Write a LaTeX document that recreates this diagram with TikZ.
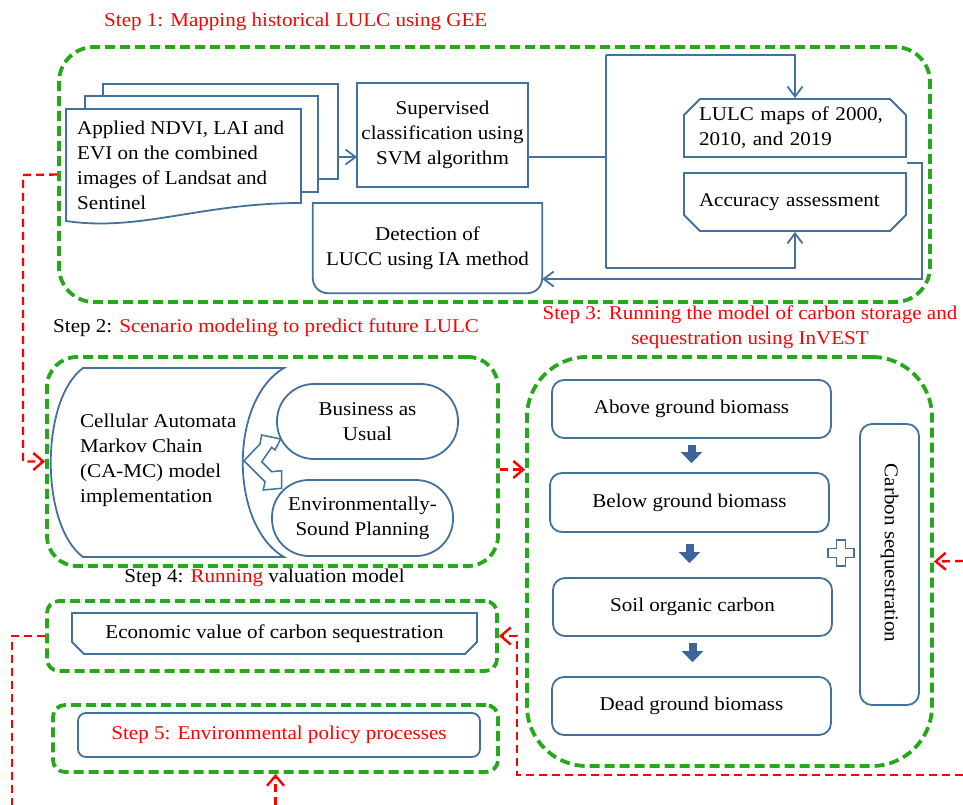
\documentclass[tikz,border=0pt]{standalone}
\usepackage{fontspec}
\setmainfont{Liberation Serif}[FakeStretch=1.08]
\usetikzlibrary{arrows.meta,shapes.misc}
\definecolor{boxblue}{RGB}{65,113,156}
\definecolor{stepgreen}{RGB}{37,168,25}
\definecolor{arrowblue}{RGB}{62,100,155}
\begin{document}
\begin{tikzpicture}[x=1pt,y=-1pt,font=\fontsize{19.5}{25}\selectfont,
  stepframe/.style={draw=stepgreen, line width=3.8pt, dash pattern=on 10pt off 5pt, rounded corners=#1, inner sep=0pt},
  stepframe/.default=12pt,
  bluebox/.style={draw=boxblue, line width=1.8pt, fill=white, inner sep=0pt},
  blueline/.style={draw=boxblue, line width=1.8pt},
  blueflow/.style={blueline, -{Straight Barb[length=10pt,width=15pt]}},
  reddash/.style={draw=red, line width=2.4pt, dash pattern=on 8pt off 5pt},
  redflow/.style={reddash, -{Straight Barb[length=10pt,width=17pt]}},
  downflow/.style={draw=arrowblue, line width=8pt, -{Triangle[length=11pt,width=21pt]}},
  chamf/.style={chamfered rectangle, chamfered rectangle corners={#1}, chamfered rectangle xsep=8pt, chamfered rectangle ysep=8pt}]
\useasboundingbox (0,0) rectangle (963,805);

\node[stepframe=35pt, minimum width=871pt, minimum height=255pt] (s1) at (494.5,174.5) {};
\node[stepframe=30pt, minimum width=451pt, minimum height=209pt] (s2) at (272.5,461.5) {};
\node[stepframe=60pt, minimum width=405pt, minimum height=409pt] (s3) at (729.5,561.5) {};
\node[stepframe=12pt, minimum width=450pt, minimum height=70pt] (s4) at (272,636) {};
\node[stepframe=12pt, minimum width=445pt, minimum height=67pt] (s5) at (275.5,738.5) {};

\node[text=red, inner sep=0pt, anchor=west] (t1) at (104,22) {Step 1: Mapping historical LULC using GEE};
\node[inner sep=0pt, anchor=west] (t2) at (53,328) {Step 2: \textcolor{red}{Scenario modeling to predict future LULC}};
\node[text=red, inner sep=0pt, align=center] (t3) at (750,327.5) {Step 3: Running the model of carbon storage and\\sequestration using InVEST};
\node[inner sep=0pt] (t4) at (264.5,578) {Step 4: \textcolor{red}{Running} valuation model};

\node[bluebox, minimum width=235pt, minimum height=95pt] (sheet3) at (220.5,131.5) {};
\node[bluebox, minimum width=233pt, minimum height=96pt] (sheet2) at (201.5,144) {};
\draw[blueline, fill=white] (66,109) -- (301,109) -- (301,203) .. controls (200,203) and (140,232) .. (66,221) -- cycle;
\node[anchor=west, align=left, inner sep=0pt] (doc) at (77,165) {Applied NDVI, LAI and\\EVI on the combined\\images of Landsat and\\Sentinel};
\node[bluebox, minimum width=171pt, minimum height=104pt, align=center] (sup) at (442.5,135) {Supervised\\classification using\\SVM algorithm};
\node[bluebox, chamf={north west,north east}, minimum width=222pt, minimum height=58pt, text width=192pt, align=left] (lulc) at (795,128) {LULC maps of 2000,\\2010, and 2019};
\node[bluebox, chamf={south west,south east}, minimum width=222pt, minimum height=58pt, text width=192pt, align=left] (acc) at (795,202) {Accuracy assessment};
\node[minimum width=229pt, minimum height=90pt, align=center, inner sep=0pt] (det) at (427.5,248) {Detection of\\LUCC using IA method};
\draw[blueline, rounded corners=15pt, line cap=rect] (det.north west) -- (det.south west) -- (det.south east) -- (det.north east);
\draw[blueline, line cap=rect] (det.north west) -- (det.north east);

\coordinate (supin) at (357,157);
\coordinate (busT) at (606,55);
\coordinate (busM) at (606,157);
\coordinate (busB) at (606,268);
\coordinate (retT) at (922,163);
\coordinate (retB) at (922,279);
\draw[blueflow] (sheet3.east |- supin) -- (supin);
\draw[blueline] (sup.east |- busM) -- (busM);
\draw[blueline] (busT) -- (busB);
\draw[blueflow] (busT) -| (lulc.north);
\draw[blueflow] (busB) -| (acc.south);
\draw[blueflow] (lulc.south east |- retT) -- (retT) -- (retB) -- (retB -| det.east);

\draw[blueline, fill=white] (83,368) -- (284,368) .. controls (229,400) and (229,525) .. (284,557) -- (83,557) .. controls (40,525) and (40,400) .. cycle;
\node[anchor=west, align=left, inner sep=0pt] (camc) at (80,460) {Cellular Automata\\Markov Chain\\(CA-MC) model\\implementation};
\node[bluebox, rounded corners=37pt, minimum width=181pt, minimum height=75pt, align=center] (bau) at (367.5,421.5) {Business as\\Usual};
\node[bluebox, rounded corners=37pt, minimum width=181pt, minimum height=76pt, align=center] (esp) at (362.5,518) {Environmentally-\\Sound Planning};
\draw[boxblue, line width=1.5pt, fill=white] (244,460.7) -- (260,444) -- (261.7,435) -- (280.7,439) -- (275,450) -- (271.7,447.3) -- (261.7,461.7) -- (271.7,471.7) -- (281.7,470.7) -- (281.7,488.3) -- (263.3,490) -- (265,481.7) -- cycle;

\node[bluebox, rounded corners=12pt, minimum width=279pt, minimum height=58pt] (agb) at (691.5,409) {Above ground biomass};
\node[bluebox, rounded corners=12pt, minimum width=279pt, minimum height=59pt] (bgb) at (689.5,502.5) {Below ground biomass};
\node[bluebox, rounded corners=12pt, minimum width=279pt, minimum height=58pt] (soc) at (692.5,607) {Soil organic carbon};
\node[bluebox, rounded corners=12pt, minimum width=279pt, minimum height=58pt] (dgb) at (691.5,706) {Dead ground biomass};
\draw[downflow, shorten <=6pt, shorten >=9pt] (agb.south) -- (agb.south |- bgb.north);
\draw[downflow, shorten <=11pt, shorten >=14pt] (bgb.south) -- (bgb.south |- soc.north);
\draw[downflow, shorten <=6pt, shorten >=14pt] (soc.south) -- (soc.south |- dgb.north);
\draw[boxblue, line width=1.5pt] (836.5,540) -- (845.5,540) -- (845.5,548.5) -- (854,548.5) -- (854,557.5) -- (845.5,557.5) -- (845.5,566) -- (836.5,566) -- (836.5,557.5) -- (828,557.5) -- (828,548.5) -- (836.5,548.5) -- cycle;
\node[bluebox, rounded corners=12pt, minimum width=59pt, minimum height=281pt] (cseq) at (889.5,564.5) {};
\node[rotate=-90, inner sep=0pt] (cseqt) at (889.5,553) {Carbon sequestration};

\node[bluebox, chamfered rectangle, chamfered rectangle corners={south west,south east}, chamfered rectangle xsep=6pt, chamfered rectangle ysep=6pt, minimum width=405pt, minimum height=41pt] (econ) at (274.5,633.5) {Economic value of carbon sequestration};
\node[bluebox, rounded corners=8pt, minimum width=402pt, minimum height=44pt, text=red] (pol) at (279,735) {Step 5: Environmental policy processes};

\coordinate (lane1) at (23,175);
\coordinate (s2out) at ([yshift=-8pt]s2.east);
\coordinate (edgeR) at (963,561);
\coordinate (edgeB) at (963,775);
\coordinate (lane3) at (517,775);
\coordinate (edgeL) at (12,805);
\coordinate (edgeD) at (275.5,805);
\draw[redflow] (s1.west) -- (lane1) |- (s2.west);
\draw[redflow] (s2out) -- (s2out -| s3.west);
\draw[redflow] (edgeR) -- (s3.east);
\draw[redflow] (edgeB) -- (lane3) |- (s4.east);
\draw[reddash] (s4.west) -| (edgeL);
\draw[redflow] (edgeD) -- (s5.south);
\end{tikzpicture}
\end{document}
